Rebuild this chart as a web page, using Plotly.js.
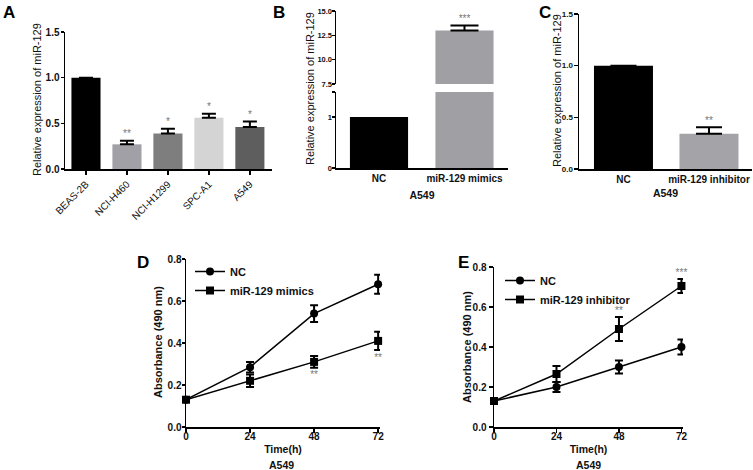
<!DOCTYPE html>
<html>
<head>
<meta charset="utf-8">
<script src="https://cdn.plot.ly/plotly-3.0.1.min.js"></script>
<style>html,body{margin:0;padding:0;background:#fff;}#chart{width:753px;height:470px;}</style>
</head>
<body>
<div id="chart"></div>
<script>
// ---------- Panel A ----------
const cellLines = ['BEAS-2B', 'NCI-H460', 'NCI-H1299', 'SPC-A1', 'A549'];
const cellExpr = [1.0, 0.27, 0.39, 0.56, 0.46];
const cellErr = [0, 0.04, 0.05, 0.045, 0.06];
const cellSig = ['', '**', '*', '*', '*'];
const cellColors = ['#000000', '#a0a0a6', '#7e7e7e', '#d4d4d4', '#5e5e5e'];

// ---------- Panel B ----------
const mimicGroups = ['NC', 'miR-129 mimics'];
const mimicExpr = [1.0, 13.0];
const mimicErr = [0, 0.5];
const mimicSig = ['', '***'];

// ---------- Panel C ----------
const inhibGroups = ['NC', 'miR-129 inhibitor'];
const inhibExpr = [1.0, 0.34];
const inhibErr = [0, 0.065];
const inhibSig = ['', '**'];

// ---------- Panels D / E ----------
const timeH = [0, 24, 48, 72];
const dNC = [0.13, 0.285, 0.54, 0.68];
const dNCErr = [0.008, 0.025, 0.04, 0.045];
const dMimic = [0.13, 0.22, 0.31, 0.41];
const dMimicErr = [0.008, 0.03, 0.028, 0.043];
const dSig = ['', '', '**', '**'];

const eNC = [0.13, 0.20, 0.30, 0.40];
const eNCErr = [0.008, 0.025, 0.032, 0.037];
const eInhib = [0.13, 0.265, 0.49, 0.705];
const eInhibErr = [0.008, 0.04, 0.06, 0.035];
const eSig = ['', '', '**', '***'];

const W = 753, H = 470;
const fx = p => p / W;
const fy = p => 1 - p / H;
const FONT = 'Liberation Sans, Arial, sans-serif';
const tickFont = {family: FONT, size: 10, color: '#111', weight: 'bold'};
const smallTick = {family: FONT, size: 7.5, color: '#111', weight: 'bold'};
const starFont = {family: FONT, size: 10, color: '#777'};

function axisBase(extra) {
  return Object.assign({
    showline: true, linecolor: '#000', linewidth: 1.5,
    ticks: 'outside', ticklen: 4, tickwidth: 1.5, tickcolor: '#000',
    showgrid: false, zeroline: false, tickfont: tickFont, fixedrange: true
  }, extra);
}

const traces = [];
// Panel A bars
traces.push({
  type: 'bar', x: cellLines, y: cellExpr, xaxis: 'x', yaxis: 'y',
  marker: {color: cellColors, line: {width: 0}}, width: 0.71, showlegend: false,
  error_y: {type: 'data', array: cellErr, arrayminus: cellErr.map(() => 0), symmetric: false,
            color: '#000', thickness: 2, width: 7}
});
traces.push({
  type: 'scatter', mode: 'text', x: cellLines, y: cellExpr.map((v, i) => v + cellErr[i] + 0.01),
  text: cellSig, textposition: 'top center', textfont: starFont, xaxis: 'x', yaxis: 'y',
  showlegend: false, cliponaxis: false, hoverinfo: 'skip'
});

// Panel B lower (broken axis)
traces.push({
  type: 'bar', x: mimicGroups, y: mimicExpr, xaxis: 'x2', yaxis: 'y2',
  marker: {color: ['#000000', '#a0a0a4']}, width: 0.68, showlegend: false
});
// Panel B upper
traces.push({
  type: 'bar', x: mimicGroups, y: mimicExpr, xaxis: 'x3', yaxis: 'y3',
  marker: {color: ['#000000', '#a0a0a4']}, width: 0.68, showlegend: false,
  error_y: {type: 'data', array: mimicErr, arrayminus: mimicErr.map(() => 0), symmetric: false,
            color: '#000', thickness: 2, width: 14}
});
traces.push({
  type: 'scatter', mode: 'text', x: mimicGroups, y: mimicExpr.map((v, i) => v + mimicErr[i] + 0.1),
  text: mimicSig, textposition: 'top center', textfont: starFont, xaxis: 'x3', yaxis: 'y3',
  showlegend: false, cliponaxis: false, hoverinfo: 'skip'
});

// Panel C
traces.push({
  type: 'bar', x: inhibGroups, y: inhibExpr, xaxis: 'x4', yaxis: 'y4',
  marker: {color: ['#000000', '#a4a4a8']}, width: 0.69, showlegend: false,
  error_y: {type: 'data', array: inhibErr, arrayminus: inhibErr.map(() => 0), symmetric: false,
            color: '#000', thickness: 2, width: 13}
});
traces.push({
  type: 'scatter', mode: 'text', x: inhibGroups, y: inhibExpr.map((v, i) => v + inhibErr[i] + 0.01),
  text: inhibSig, textposition: 'top center', textfont: starFont, xaxis: 'x4', yaxis: 'y4',
  showlegend: false, cliponaxis: false, hoverinfo: 'skip'
});

function lineTrace(y, err, name, symbol, xa, ya, legend) {
  return {
    type: 'scatter', mode: 'lines+markers', x: timeH, y: y, name: name,
    xaxis: xa, yaxis: ya, legend: legend, cliponaxis: false,
    line: {color: '#000', width: 1.5},
    marker: {color: '#000', symbol: symbol, size: 8},
    error_y: {type: 'data', array: err, color: '#000', thickness: 2, width: 4}
  };
}
// Panel D
traces.push(lineTrace(dNC, dNCErr, 'NC', 'circle', 'x5', 'y5', 'legend'));
traces.push(lineTrace(dMimic, dMimicErr, 'miR-129 mimics', 'square', 'x5', 'y5', 'legend'));
traces.push({
  type: 'scatter', mode: 'text', x: timeH, y: dMimic.map((v, i) => v - dMimicErr[i] - 0.015),
  text: dSig, textposition: 'bottom center', textfont: starFont, xaxis: 'x5', yaxis: 'y5',
  showlegend: false, cliponaxis: false, hoverinfo: 'skip'
});
// Panel E
traces.push(lineTrace(eNC, eNCErr, 'NC', 'circle', 'x6', 'y6', 'legend2'));
traces.push(lineTrace(eInhib, eInhibErr, 'miR-129 inhibitor', 'square', 'x6', 'y6', 'legend2'));
traces.push({
  type: 'scatter', mode: 'text', x: timeH, y: eInhib.map((v, i) => v + eInhibErr[i] + 0.005),
  text: eSig, textposition: 'top center', textfont: starFont, xaxis: 'x6', yaxis: 'y6',
  showlegend: false, cliponaxis: false, hoverinfo: 'skip'
});

const yTitleFont = {family: FONT, size: 11, color: '#111'};
const absTitleFont = {family: FONT, size: 11, color: '#111', weight: 'bold'};
const xTitleFont = {family: FONT, size: 10.5, color: '#111', weight: 'bold'};
const letterFont = {family: FONT, size: 17, color: '#000', weight: 'bold'};

function paperText(text, x, y, font, angle) {
  return {text: text, xref: 'paper', yref: 'paper', x: fx(x), y: fy(y), xanchor: 'center', yanchor: 'middle',
          showarrow: false, font: font, textangle: angle || 0};
}

const layout = {
  width: W, height: H, margin: {l: 0, r: 0, t: 0, b: 0},
  paper_bgcolor: '#fff', plot_bgcolor: 'rgba(0,0,0,0)',
  font: {family: FONT, color: '#111'},
  // A
  xaxis: axisBase({domain: [fx(65), fx(272)], range: [-0.512, 4.54], anchor: 'y', type: 'category',
                   tickangle: -45, tickfont: {family: FONT, size: 10, color: '#111'}}),
  yaxis: axisBase({domain: [fy(169), fy(32)], range: [0, 1.5], dtick: 0.5, tickformat: '.1f', anchor: 'x',
                   ticklen: 3, ticklabelstandoff: -1}),
  // B lower
  xaxis2: axisBase({domain: [fx(336), fx(508)], range: [-0.503, 1.509], anchor: 'y2', type: 'category',
                    ticks: '', title: {text: 'A549', font: xTitleFont, standoff: 9}}),
  yaxis2: axisBase({domain: [fy(168), fy(92)], range: [0, 1.49], anchor: 'x2', tickfont: smallTick,
                    ticklen: 3, ticklabelstandoff: -2,
                    tickvals: [0, 1, 1.49], ticktext: ['0', '1', '']}),
  // B upper
  xaxis3: {domain: [fx(336), fx(508)], range: [-0.503, 1.509], anchor: 'y3', type: 'category', visible: false, fixedrange: true},
  yaxis3: axisBase({domain: [fy(84), fy(11)], range: [7.5, 15], dtick: 2.5, tickformat: '.1f', anchor: 'x3',
                    tickfont: smallTick, ticklen: 3, ticklabelstandoff: -2}),
  // C
  xaxis4: axisBase({domain: [fx(579), fx(752)], range: [-0.52, 1.503], anchor: 'y4', type: 'category',
                    ticks: '', title: {text: 'A549', font: xTitleFont, standoff: 6}}),
  yaxis4: axisBase({domain: [fy(169), fy(14)], range: [0, 1.5], dtick: 0.5, tickformat: '.1f', anchor: 'x4',
                    tickfont: Object.assign({}, smallTick, {size: 8}), ticklen: 4, ticklabelstandoff: -1}),
  // D
  xaxis5: axisBase({domain: [fx(186), fx(380)], range: [0, 72.7], tickvals: timeH, anchor: 'y5',
                    ticklabelstandoff: -5,
                    title: {text: 'Time(h)', font: xTitleFont, standoff: 5}}),
  yaxis5: axisBase({domain: [fy(427), fy(259)], range: [0, 0.8], dtick: 0.2, tickformat: '.1f', anchor: 'x5',
                    ticklen: 3, ticklabelstandoff: -2}),
  // E
  xaxis6: axisBase({domain: [fx(494), fx(683)], range: [0, 72.6], tickvals: timeH, anchor: 'y6',
                    ticklabelstandoff: -5,
                    title: {text: 'Time(h)', font: xTitleFont, standoff: 5}}),
  yaxis6: axisBase({domain: [fy(427), fy(267)], range: [0, 0.8], dtick: 0.2, tickformat: '.1f', anchor: 'x6'}),
  legend: {x: fx(190), y: fy(257), xanchor: 'left', yanchor: 'top', bgcolor: 'rgba(0,0,0,0)',
           font: {family: FONT, size: 11, color: '#111', weight: 'bold'}, itemwidth: 30, tracegroupgap: 0},
  legend2: {x: fx(500), y: fy(266), xanchor: 'left', yanchor: 'top', bgcolor: 'rgba(0,0,0,0)',
            font: {family: FONT, size: 11, color: '#111', weight: 'bold'}, itemwidth: 30, tracegroupgap: 0},
  annotations: [
    paperText('Relative expression of miR-129', 37, 100, yTitleFont, -90),
    paperText('Relative expression of miR-129', 310, 89, yTitleFont, -90),
    paperText('Relative expression of miR-129', 557, 91, yTitleFont, -90),
    paperText('Absorbance (490 nm)', 158, 342, absTitleFont, -90),
    paperText('Absorbance (490 nm)', 467, 347, absTitleFont, -90),
    paperText('A549', 281, 464.5, xTitleFont),
    paperText('A549', 588, 464.5, xTitleFont),
    paperText('A', 9, 13, letterFont),
    paperText('B', 279, 13, letterFont),
    paperText('C', 545, 12, letterFont),
    paperText('D', 143, 262, letterFont),
    paperText('E', 463, 262, letterFont)
  ]
};

Plotly.newPlot('chart', traces, layout, {displayModeBar: false, staticPlot: true});
</script>
</body>
</html>
